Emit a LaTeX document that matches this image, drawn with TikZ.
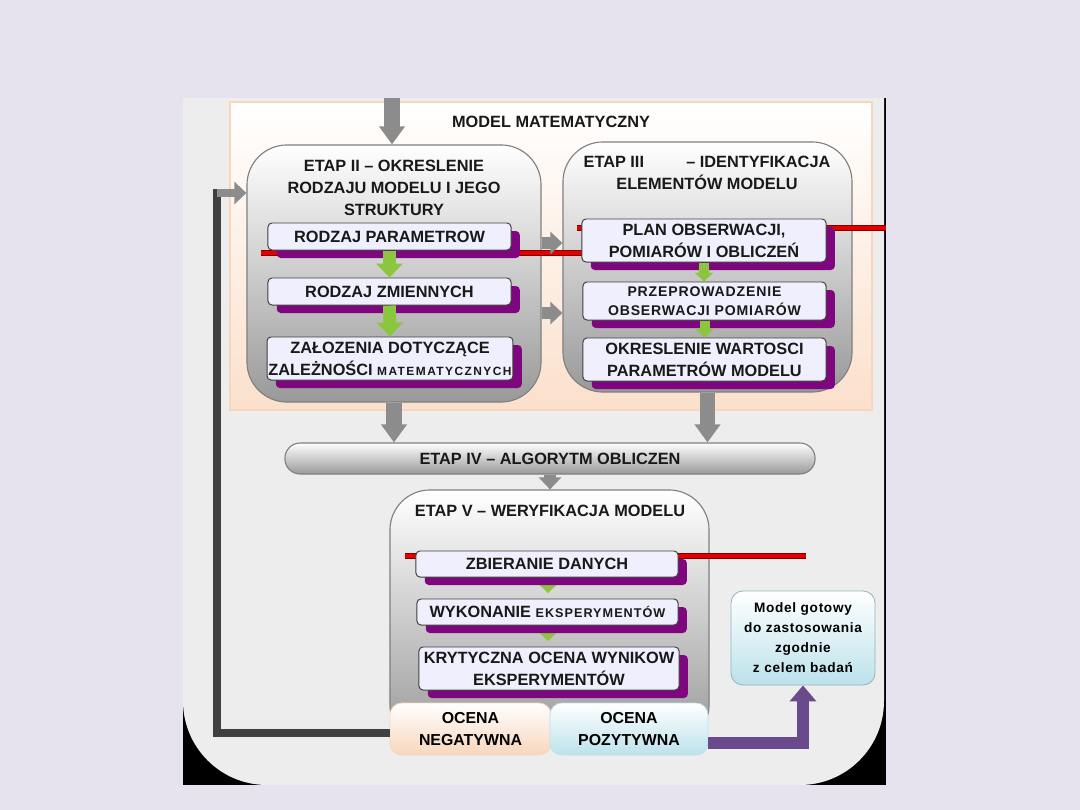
\documentclass[tikz,border=0pt]{standalone}
\usepackage{fontspec}
\setmainfont{Liberation Sans}
\usetikzlibrary{arrows.meta,shadows}

\definecolor{tlo}{HTML}{E6E2EE}
\definecolor{panel}{HTML}{EDEDEE}
\definecolor{brzoskwinia}{HTML}{F7D6BD}
\definecolor{brzoskwiniaJasna}{HTML}{FBE0CC}
\definecolor{poleJasne}{HTML}{EFEFFD}
\definecolor{cien}{HTML}{7E067E}
\definecolor{zielony}{HTML}{8CC63E}
\definecolor{turkus}{HTML}{BCE2EB}
\definecolor{fiolet}{HTML}{6A4A8C}

\begin{document}
\begin{tikzpicture}[
	x=0.025cm, y=-0.025cm,
	etap/.style={
		rectangle,
		rounded corners=1cm,
		draw=black!50,
		line width=0.8pt,
		top color=white,
		bottom color=black!40
	},
	naglowek/.style={font=\bfseries\fontsize{11.6}{15.5}\selectfont, align=center, text=black!90},
	pole/.style={
		rectangle,
		rounded corners=0.1cm,
		draw=black!75,
		line width=0.7pt,
		fill=poleJasne,
		align=center,
		inner sep=1pt,
		text=black!90,
		font=\bfseries\fontsize{11.6}{15.5}\selectfont,
		general shadow={fill=cien, shadow xshift=0.22cm, shadow yshift=-0.2cm}
	},
	niskie/.style={pole, minimum height=0.675cm},
	wysokie/.style={pole, minimum height=1.075cm},
	ocena/.style={
		rectangle,
		rounded corners=0.3cm,
		align=center,
		line width=0.6pt,
		minimum height=1.3cm,
		font=\bfseries\fontsize{11.3}{15.5}\selectfont
	},
	czerwona/.style={draw=red!50!black, line width=0.5pt, double=red!90!black, double distance=3pt},
	szara/.style={draw=black!45, line width=0.38cm, -{Triangle[width=0.62cm,length=0.45cm]}},
	szaraMala/.style={draw=black!45, line width=0.3cm, -{Triangle[width=0.55cm,length=0.3cm]}},
	zielona/.style={draw=zielony, line width=0.32cm, -{Triangle[width=0.65cm,length=0.35cm]}},
	zielonaMala/.style={draw=zielony, line width=0.25cm, -{Triangle[width=0.45cm,length=0.22cm]}},
	powrot/.style={draw=black!75, line width=0.22cm},
	fioletowa/.style={draw=fiolet, line width=0.32cm, -{Triangle[width=0.65cm,length=0.4cm]}}
]

% Tło i panel
\fill[tlo] (0,0) rectangle (1080,810);
\useasboundingbox (0,0) rectangle (1080,810);
\begin{scope}
	\clip (183,98) rectangle (886,785);
	\fill[black] (183,98) rectangle (886,785);
	\fill[panel, rounded corners=2.1cm] (183,0) rectangle (884,785);
\end{scope}

% Model matematyczny
\path[draw=brzoskwinia, line width=2pt, top color=white, bottom color=brzoskwiniaJasna] (230,102) rectangle (872,410);
\node[naglowek] (tytul) at (551,122) {MODEL MATEMATYCZNY};

% Etapy
\node[etap, minimum width=7.35cm, minimum height=6.425cm] (etap2) at (394,273.5) {};
\node[naglowek] (t2) at (394,188) {ETAP II – OKRESLENIE\\RODZAJU MODELU I JEGO\\STRUKTURY};

\node[etap, minimum width=7.225cm, minimum height=6.25cm] (etap3) at (707.5,267) {};
\node[naglowek] (t3) at (707,173) {ETAP III\hspace{30pt}– IDENTYFIKACJA\\ELEMENTÓW MODELU};

\node[etap, rounded corners=0.38cm, minimum width=13.25cm, minimum height=0.775cm,
	naglowek] (etap4) at (550,458.5) {ETAP IV – ALGORYTM OBLICZEN};

\node[etap, minimum width=7.975cm, minimum height=6.375cm] (etap5) at (549.5,617.5) {};
\node[naglowek] (t5) at (550,511) {ETAP V – WERYFIKACJA MODELU};

% Linie czerwone
\coordinate (r1) at (261,253);
\coordinate (r1k) at (583,253);
\coordinate (r2) at (577,228);
\coordinate (r2k) at (886,228);
\coordinate (r3) at (405,556);
\coordinate (r3k) at (806,556);
\draw[czerwona] (r1) -- (r1k);
\draw[czerwona] (r2) -- (r2k);
\draw[czerwona] (r3) -- (r3k);

% Etap V: strzalki pod polami
\coordinate (g1) at (548,577);
\coordinate (g2) at (548,625);
\draw[zielonaMala] (g1) -- ++(0,16);
\draw[zielonaMala] (g2) -- ++(0,16);

% Pola etapu II
\node[niskie, minimum width=6.075cm] (par) at (389.5,236.5) {RODZAJ PARAMETROW};
\node[niskie, minimum width=6.075cm] (zm) at (389.5,291.5) {RODZAJ ZMIENNYCH};
\node[wysokie, minimum width=6.1cm] (zal) at (390,358.5) {ZAŁOZENIA DOTYCZĄCE\\ZALEŻNOŚCI {\addfontfeatures{LetterSpace=12}\fontsize{8.5}{10}\selectfont MATEMATYCZNYCH}};

% Pola etapu III
\node[wysokie, minimum width=6.1cm] (plan) at (704,240.5) {PLAN OBSERWACJI,\\POMIARÓW I OBLICZEŃ};
\node[pole, minimum width=6.075cm, minimum height=0.95cm,
	font=\bfseries\fontsize{10}{14}\selectfont] (prz) at (704.5,301) {\addfontfeatures{LetterSpace=6}PRZEPROWADZENIE\\\addfontfeatures{LetterSpace=6}OBSERWACJI POMIARÓW};
\node[wysokie, minimum width=6.075cm] (okr) at (704.5,359.5) {OKRESLENIE WARTOSCI\\PARAMETRÓW MODELU};

% Pola etapu V
\node[niskie, minimum width=6.55cm, minimum height=0.65cm] (zb) at (547,564) {ZBIERANIE DANYCH};
\node[niskie, minimum width=6.525cm, minimum height=0.65cm] (wyk) at (547.5,612) {WYKONANIE {\addfontfeatures{LetterSpace=8}\fontsize{9}{10}\selectfont EKSPERYMENTÓW}};
\node[wysokie, minimum width=6.5cm] (kr) at (549,668.5) {KRYTYCZNA OCENA WYNIKOW\\EKSPERYMENTÓW};

% Strzalki zielone
\draw[zielona] (par.south) -- (zm.north);
\draw[zielona] (zm.south) -- (zal.north);
\draw[zielonaMala] (plan.south) -- (plan.south |- prz.north);
\draw[zielonaMala] (prz.south) -- (prz.south |- okr.north);

% Strzalki szare
\coordinate (wej) at (392,98);
\draw[szara] (wej) -- (wej |- etap2.north);
\draw[szaraMala] (etap2.east |- 0,243) -- (etap3.west |- 0,243);
\draw[szaraMala] (etap2.east |- 0,313) -- (etap3.west |- 0,313);
\draw[szara] (etap2.south) -- (etap2.south |- etap4.north);
\draw[szara] (etap3.south) -- (etap3.south |- etap4.north);
\draw[szaraMala] (etap4.south) -- (etap4.south |- etap5.north);

% Oceny
\node[ocena, draw=brzoskwinia, top color=white, bottom color=brzoskwinia,
	minimum width=4.025cm] (neg) at (470.5,729) {OCENA\\NEGATYWNA};
\node[ocena, draw=turkus, top color=white, bottom color=turkus,
	minimum width=3.95cm] (poz) at (629,729) {OCENA\\POZYTYWNA};
\node[ocena, draw=turkus!80!black, top color=white, bottom color=turkus,
	minimum width=3.6cm, minimum height=2.35cm,
	font=\bfseries\fontsize{9.7}{14.2}\selectfont] (model) at (803,638)
	{\addfontfeatures{LetterSpace=5}Model gotowy\\\addfontfeatures{LetterSpace=5}do zastosowania\\\addfontfeatures{LetterSpace=5}zgodnie\\\addfontfeatures{LetterSpace=5}z celem badań};

% Petla zwrotna i wyjscie
\coordinate (p1) at (217,733);
\coordinate (p2) at (217,193);
\draw[powrot] (neg.west |- p1) -- (p1) -- (p2) -- ++(8,0);
\draw[szaraMala, line width=0.22cm] (p2) -- (etap2.west |- p2);
\coordinate (q) at (803,743);
\draw[fioletowa] (poz.east |- q) -- (q) -- (q |- model.south);

\end{tikzpicture}
\end{document}
